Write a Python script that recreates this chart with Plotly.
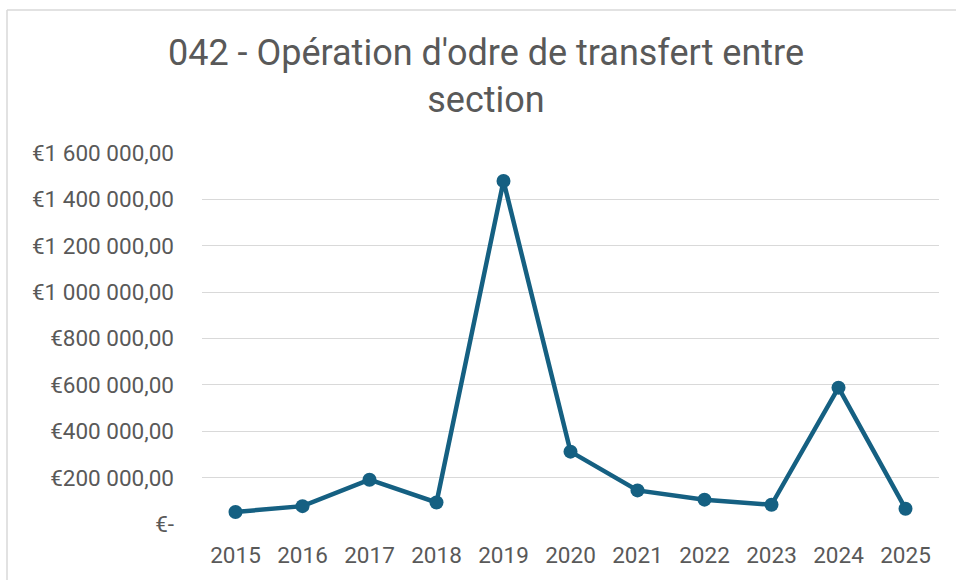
import plotly.graph_objects as go

years = ["2015", "2016", "2017", "2018", "2019", "2020", "2021", "2022", "2023", "2024", "2025"]
values = [52000, 77000, 191000, 93000, 1479000, 312000, 145000, 105000, 83000, 588000, 66000]
tick_vals = [0, 200000, 400000, 600000, 800000, 1000000, 1200000, 1400000, 1600000]
tick_text = ["€-", "€200 000,00", "€400 000,00", "€600 000,00", "€800 000,00",
             "€1 000 000,00", "€1 200 000,00", "€1 400 000,00", "€1 600 000,00"]
title_text = "042 - Opération d'odre de transfert entre<br>section"

W, H = 956, 580
ml, mr, mt, mb = 202, 17, 153, 56
pw, ph = W - ml - mr, H - mt - mb

fig = go.Figure()
fig.add_trace(go.Scatter(
    x=years, y=values, mode="lines+markers",
    line=dict(color="#156082", width=4.5),
    marker=dict(color="#156082", size=14),
    hoverinfo="skip", showlegend=False,
))

def px_x(px):
    return (px - ml) / pw

def px_y(py):
    return (H - mb - py) / ph

fig.update_layout(
    width=W, height=H,
    margin=dict(l=ml, r=mr, t=mt, b=mb),
    paper_bgcolor="white", plot_bgcolor="white",
    font=dict(family="Roboto, sans-serif", color="#595959", size=22),
    title=dict(text=title_text, x=486 / W, xanchor="center", y=1 - 65 / H, yanchor="top",
               font=dict(family="Roboto, sans-serif", size=36, color="#595959")),
    xaxis=dict(type="category", range=[-0.5, 10.5], showgrid=False, zeroline=False,
               showline=False, ticks="", tickfont=dict(size=22.5, color="#595959"),
               ticklabelstandoff=15),
    yaxis=dict(range=[0, 1600000], tickvals=tick_vals, ticktext=tick_text,
               showgrid=True, gridcolor="#D9D9D9", gridwidth=1.3, zeroline=False,
               showline=False, ticks="", tickfont=dict(size=22.5, color="#595959"),
               ticklabelstandoff=27),
    shapes=[
        dict(type="line", xref="paper", yref="paper", x0=px_x(7), x1=px_x(7),
             y0=px_y(580), y1=px_y(10), line=dict(color="#D9D9D9", width=1.5)),
        dict(type="line", xref="paper", yref="paper", x0=px_x(7), x1=px_x(956),
             y0=px_y(10), y1=px_y(10), line=dict(color="#D9D9D9", width=1.5)),
    ],
)

fig.write_html("out.html", config={"displayModeBar": False},
               post_script="document.body.style.margin='0px';document.body.style.overflow='hidden';")
